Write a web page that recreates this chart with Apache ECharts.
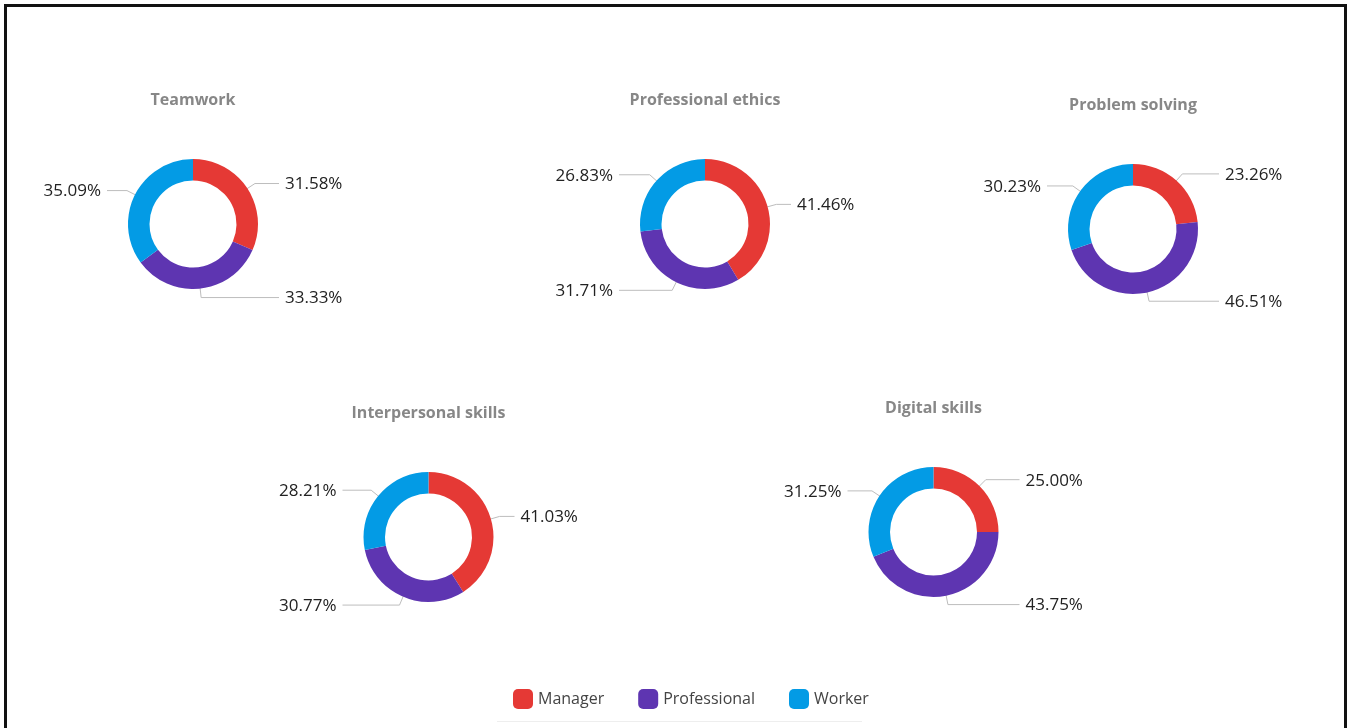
<!DOCTYPE html>
<html>
<head>
<meta charset="utf-8">
<script src="https://cdn.jsdelivr.net/npm/echarts@6/dist/echarts.min.js"></script>
<style>
  html, body { margin: 0; padding: 0; background: #fff; }
  #chart { width: 1353px; height: 728px; }
</style>
</head>
<body>
<div id="chart"></div>
<script>
// Share of each role per skill (percent)
const roles = ['Manager', 'Professional', 'Worker'];
const skills = ['Teamwork', 'Professional ethics', 'Problem solving', 'Interpersonal skills', 'Digital skills'];
const managerShare = [31.58, 41.46, 23.26, 41.03, 25.00];
const professionalShare = [33.33, 31.71, 46.51, 30.77, 43.75];
const workerShare = [35.09, 26.83, 30.23, 28.21, 31.25];

// Layout of the five donuts
const centers = [[193, 224], [705, 224], [1133, 229], [428.5, 537], [933.5, 532]];
const innerR = 43.5, outerR = 65;
const roleColors = ['#e53935', '#5e35b1', '#039be5'];
const fontFamily = '"Open Sans", "Noto Sans", sans-serif';

function valuesOf(s) {
  return [managerShare[s], professionalShare[s], workerShare[s]];
}

// Labels sit at a fixed horizontal distance from each donut centre,
// joined to the middle of the ring by a bent guide line.
function labelLayoutFor(s) {
  return function (p) {
    const vals = valuesOf(s);
    const total = vals.reduce((a, b) => a + b, 0);
    let before = 0;
    for (let i = 0; i < p.dataIndex; i++) before += vals[i];
    const theta = (before + vals[p.dataIndex] / 2) / total * Math.PI * 2;
    const dx = Math.sin(theta), dy = -Math.cos(theta);
    const cx = centers[s][0], cy = centers[s][1];
    const side = dx < 0 ? -1 : 1;
    const p1 = [cx + 54 * dx, cy + 54 * dy];
    const p2 = [cx + 74 * dx, cy + 74 * dy];
    const p3 = [cx + side * 86, p2[1]];
    return {
      x: cx + side * 92,
      y: p2[1] + 1,
      align: side < 0 ? 'right' : 'left',
      verticalAlign: 'middle',
      labelLinePoints: [p1, p2, p3]
    };
  };
}

const series = skills.map((name, s) => ({
  type: 'pie',
  name: name,
  center: centers[s],
  radius: [innerR, outerR],
  startAngle: 90,
  clockwise: true,
  avoidLabelOverlap: false,
  silent: true,
  label: {
    show: true,
    position: 'outside',
    formatter: (d) => d.value.toFixed(2) + '%',
    color: '#222222',
    fontSize: 17,
    fontFamily: fontFamily
  },
  labelLine: {
    show: true,
    showAbove: true,
    lineStyle: { color: '#bdbdbd', width: 1 }
  },
  labelLayout: labelLayoutFor(s),
  data: roles.map((r, i) => ({
    name: r,
    value: valuesOf(s)[i],
    itemStyle: { color: roleColors[i] }
  }))
}));

const titles = skills.map((name, s) => ({
  text: name,
  left: centers[s][0],
  top: centers[s][1] - 132,
  textAlign: 'center',
  padding: 0,
  textStyle: {
    fontSize: 16,
    fontWeight: 'bold',
    color: '#878787',
    fontFamily: fontFamily
  }
}));

const chart = echarts.init(document.getElementById('chart'), null, { renderer: 'canvas' });
chart.setOption({
  animation: false,
  backgroundColor: '#ffffff',
  title: titles,
  legend: {
    data: roles,
    left: 513,
    top: 689,
    padding: 0,
    icon: 'roundRect',
    itemWidth: 20,
    itemHeight: 20,
    itemGap: 34,
    textStyle: { fontSize: 16, color: '#444444', fontFamily: fontFamily }
  },
  graphic: [
    {
      type: 'polyline',
      shape: { points: [[5.5, 760], [5.5, 5.5], [1345.5, 5.5], [1345.5, 760]] },
      style: { stroke: '#111111', lineWidth: 3, fill: null },
      silent: true
    },
    {
      type: 'line',
      shape: { x1: 497, y1: 721.5, x2: 862, y2: 721.5 },
      style: { stroke: '#eeeeee', lineWidth: 1 },
      silent: true
    }
  ],
  series: series
});
</script>
</body>
</html>
